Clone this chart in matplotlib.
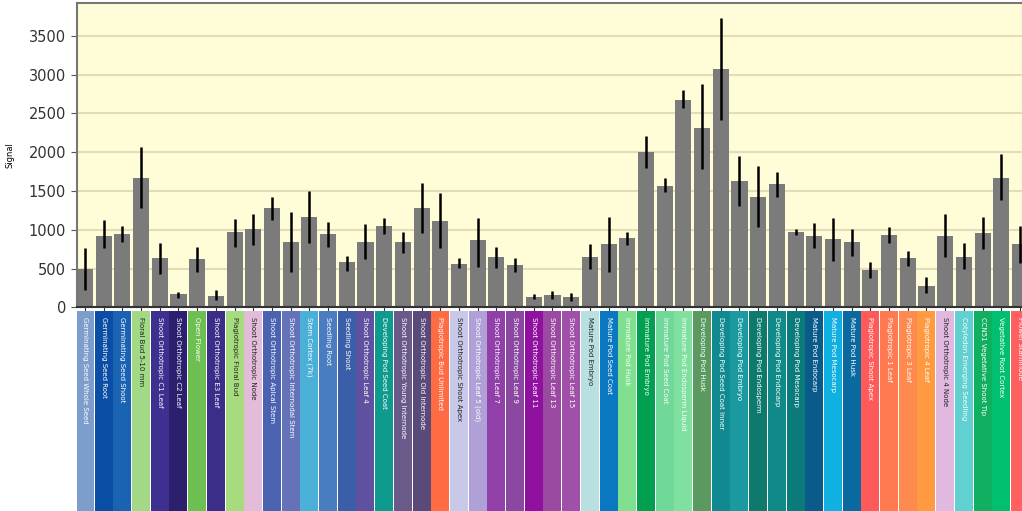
import numpy as np
import matplotlib
matplotlib.use("Agg")
import matplotlib.pyplot as plt

# tissue labels and their colour keys
labels = [
    "Germinating Seed Whole Seed", "Germinating Seed Root", "Germinating Seed Shoot",
    "Floral Bud 5-10 mm", "Shoot Orthotropic C1 Leaf", "Shoot Orthotropic C2 Leaf",
    "Open Flower", "Shoot Orthotropic E3 Leaf", "Plagiotropic Floral Bud",
    "Shoot Orthotropic Node", "Shoot Orthotropic Apical Stem", "Shoot Orthotropic Internodal Stem",
    "Stem Cortex (7k)", "Seedling Root", "Seedling Shoot",
    "Shoot Orthotropic Leaf 4", "Developing Pod Seed Coat", "Shoot Orthotropic Young Internode",
    "Shoot Orthotropic Old Internode", "Plagiotropic Bud Unlimited", "Shoot Orthotropic Shoot Apex",
    "Shoot Orthotropic Leaf 5 (old)", "Shoot Orthotropic Leaf 7", "Shoot Orthotropic Leaf 9",
    "Shoot Orthotropic Leaf 11", "Shoot Orthotropic Leaf 13", "Shoot Orthotropic Leaf 15",
    "Mature Pod Embryo", "Mature Pod Seed Coat", "Immature Pod Husk",
    "Immature Pod Embryo", "Immature Pod Seed Coat", "Immature Pod Endosperm Liquid",
    "Developing Pod Husk", "Developing Pod Seed Coat Inner", "Developing Pod Embryo",
    "Developing Pod Endosperm", "Developing Pod Endocarp", "Developing Pod Mesocarp",
    "Mature Pod Endocarp", "Mature Pod Mesocarp", "Mature Pod Husk",
    "Plagiotropic Shoot Apex", "Plagiotropic 1 Leaf", "Plagiotropic 3 Leaf",
    "Plagiotropic 4 Leaf", "Shoot Orthotropic 4 Node", "Cotyledon Emerging Seedling",
    "CCN51 Vegetative Shoot Tip", "Vegetative Root Cortex", "Flower Staminode",
]
colors = [
    "#7d9dcc", "#0a4fa5", "#1a62b2", "#a2d886", "#3d3090", "#2b1f6e",
    "#6cbf50", "#3a2e88", "#a6dc7e", "#e2bcd8", "#4a62b0", "#6472b8",
    "#4ab0d8", "#4a7cc0", "#3a5ea8", "#6050a0", "#0e9a8e", "#6a5a8a",
    "#5a4a7a", "#ff6b42", "#c8c8e8", "#b0a0d8", "#9040a8", "#8a48a0",
    "#9010a0", "#9a4aa0", "#a050a8", "#b8e0e0", "#0a78c0", "#80e090",
    "#00a050", "#70d898", "#80e0a0", "#5a9a60", "#108a90", "#1a9aa0",
    "#0e7a6e", "#108a88", "#0a7a7a", "#0a5a8a", "#10b0e0", "#0a6aa0",
    "#ff5a5a", "#ff7a50", "#ff8a50", "#ff9a40", "#e0b8e0", "#60d0d0",
    "#10b060", "#00c070", "#ff6060",
]
dark_text = {3, 8, 9, 20, 27, 46}

# mean signal with lower / upper confidence limits
signal = [
    490, 919, 940, 1662, 631, 168, 618, 146, 966, 1009, 1284, 838, 1164, 945, 580,
    846, 1048, 838, 1276, 1113, 558, 863, 644, 545, 137, 159, 137, 653, 812, 889,
    1997, 1568, 2672, 2315, 3067, 1628, 1418, 1585, 966, 919, 876, 838, 481, 928,
    631, 275, 919, 653, 954, 1662, 812,
]
ci_low = [
    220, 760, 846, 1276, 425, 125, 460, 95, 782, 803, 1125, 460, 825, 782, 472,
    619, 940, 696, 962, 760, 511, 524, 503, 460, 103, 103, 82, 490, 460, 803,
    1791, 1490, 2564, 1778, 2414, 1310, 1031, 1426, 932, 760, 601, 661, 382, 825,
    537, 180, 644, 490, 747, 1383, 567,
]
ci_high = [
    770, 1125, 1048, 2062, 833, 193, 782, 223, 1138, 1203, 1426, 1224, 1500, 1104, 661,
    1070, 1147, 975, 1598, 1469, 631, 1147, 773, 640, 172, 210, 189, 812, 1168, 975,
    2208, 1662, 2801, 2874, 3724, 1950, 1826, 1740, 1005, 1082, 1147, 1009, 580, 1040,
    730, 395, 1198, 833, 1160, 1972, 1048,
]

x = np.arange(len(signal))
sig = np.array(signal)
yerr = [sig - np.array(ci_low), np.array(ci_high) - sig]

fig = plt.figure(figsize=(10.22, 5.11), dpi=100)
# plot runs past the right edge of the figure
ax = fig.add_axes([0.0749, 0.3986, 0.9414, 0.595])
ax.set_facecolor("#fffcd8")
ax.bar(x, sig, width=0.86, color="#7b7b7b", zorder=2)
ax.errorbar(x, sig, yerr=yerr, fmt="none", ecolor="black", elinewidth=1.8, capsize=0, zorder=3)
ax.set_xlim(-0.45, 51.0)
ax.set_ylim(0, 3920)
ax.set_yticks(range(0, 4000, 500))
ax.yaxis.grid(True, color="#e4dcb8", linewidth=1.5, zorder=0)
ax.set_axisbelow(True)
ax.set_xticks(x)
ax.set_xticklabels([])
ax.tick_params(axis="x", length=3, color="#333333")
ax.tick_params(axis="y", labelsize=10.5, labelcolor="#333333", length=4, color="#555555")
ax.set_ylabel("Signal", fontsize=6, labelpad=10)
for side in ["top", "left", "bottom"]:
    ax.spines[side].set_color("#777777")
    ax.spines[side].set_linewidth(1.5)
ax.spines["bottom"].set_color("#333333")

# coloured tissue key under each bar
key = fig.add_axes([0.0749, 0.0, 0.9414, 0.391], sharex=ax)
key.axis("off")
key.bar(x, 1.0, width=0.96, bottom=0, color=colors)
key.set_ylim(0, 1)
for i, lab in enumerate(labels):
    tc = "#222222" if i in dark_text else "white"
    key.text(i, 0.97, lab, rotation=270, ha="center", va="top", fontsize=5.0, color=tc)

fig.savefig("out.png", dpi=100)
